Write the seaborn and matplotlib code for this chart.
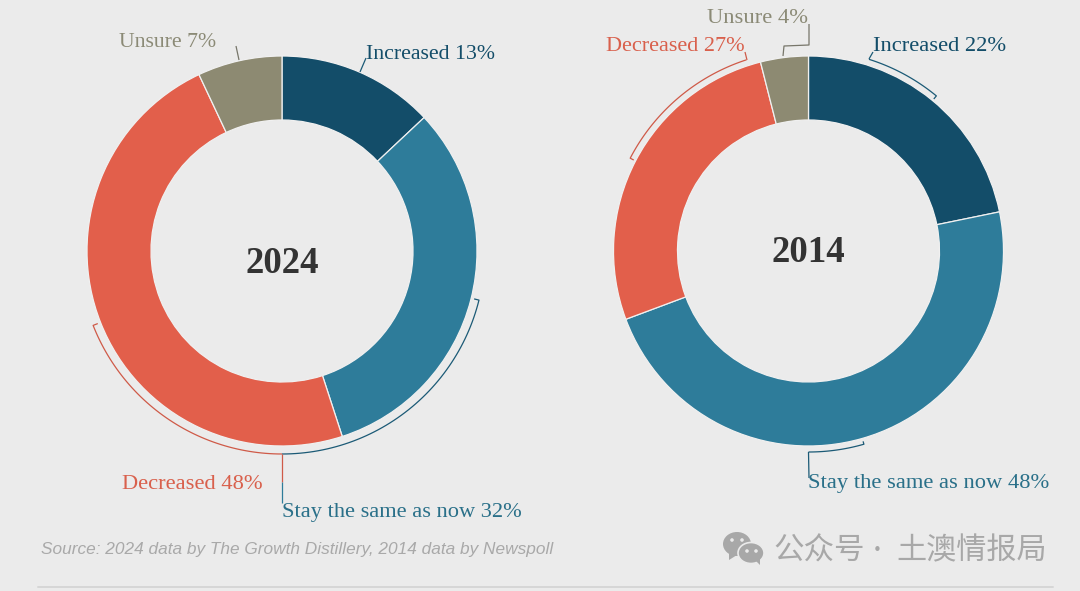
"""Two donut charts comparing survey answers in 2024 and 2014."""
import matplotlib.pyplot as plt
import numpy as np
import seaborn as sns
from matplotlib.patches import Ellipse, Polygon

W, H = 1080, 591
BG = "#ebebeb"

categories = ["Increased", "Stay the same as now", "Decreased", "Unsure"]
values_2024 = [13, 32, 48, 7]
values_2014 = [22, 48, 27, 4]
years = ["2024", "2014"]
source_note = "Source: 2024 data by The Growth Distillery, 2014 data by Newspoll"
watermark_left = "公众号"
watermark_right = "土澳情报局"

palette = sns.color_palette(["#134d69", "#2e7c9a", "#e25f4b", "#8d8a72"])
text_colors = ["#134d69", "#2a7089", "#d9604c", "#8b8a76"]
line_dark = "#1b5a76"
line_red = "#cf5a48"
line_grey = "#77766a"

sns.set_theme(style="white", rc={"figure.facecolor": BG, "axes.facecolor": BG})
plt.rcParams["font.family"] = ["Liberation Serif", "DejaVu Serif"]

CENTERS = [(282, 251), (808.5, 251)]
R_OUT, R_IN = 195, 131


def py(y):
    # picture pixels count from the top, the axes from the bottom
    return H - y


def bracket(ax, cx, cy, start, end, color, r=202, cap_start=5, cap_end=5):
    """Thin arc outside the ring, angles clockwise from 12 o'clock."""
    ang = np.radians(np.linspace(start, end, 60))
    xs = cx + r * np.sin(ang)
    ys = cy + r * np.cos(ang)
    if cap_start:
        xs = np.r_[cx + (r - cap_start) * np.sin(ang[0]), xs]
        ys = np.r_[cy + (r - cap_start) * np.cos(ang[0]), ys]
    if cap_end:
        xs = np.r_[xs, cx + (r - cap_end) * np.sin(ang[-1])]
        ys = np.r_[ys, cy + (r - cap_end) * np.cos(ang[-1])]
    ax.plot(xs, ys, color=color, lw=0.9, solid_capstyle="butt")


def leader(ax, pts, color):
    ax.plot([p[0] for p in pts], [py(p[1]) for p in pts], color=color, lw=0.9,
            solid_capstyle="butt")


fig = plt.figure(figsize=(W / 100, H / 100), dpi=100)
ax = fig.add_axes([0, 0, 1, 1])

for (cx, cy), vals in zip(CENTERS, [values_2024, values_2014]):
    ax.pie(
        vals,
        colors=palette,
        center=(cx, py(cy)),
        radius=R_OUT,
        startangle=90,
        counterclock=False,
        normalize=True,
        wedgeprops={"width": R_OUT - R_IN, "edgecolor": "#f0f0f0", "linewidth": 0.9},
    )

ax.set_xlim(0, W)
ax.set_ylim(0, H)
ax.set_aspect("equal")
ax.axis("off")

# year in the hole
ax.text(282, py(273), years[0], ha="center", va="baseline", fontsize=26.6,
        fontweight="bold", color="#333333")
ax.text(808, py(262), years[1], ha="center", va="baseline", fontsize=26.6,
        fontweight="bold", color="#333333")

# 2024 brackets and leaders
lx, ly = CENTERS[0][0], py(CENTERS[0][1])
bracket(ax, lx, ly, 104, 180, line_dark, r=203, cap_end=0)
bracket(ax, lx, ly, 180, 248.5, line_red, r=203, cap_start=0)
leader(ax, [(282, 454), (282, 482)], line_red)
leader(ax, [(282, 482), (282, 503)], "#2e7c9a")
leader(ax, [(236, 46), (239, 60)], line_grey)
leader(ax, [(360, 72), (366, 58)], line_dark)

# 2014 brackets and leaders
rx, ry = CENTERS[1][0], py(CENTERS[1][1])
bracket(ax, rx, ry, 17.5, 39.5, line_dark, r=201, cap_start=0, cap_end=4)
bracket(ax, rx, ry, 297.5, 342, line_red, r=201, cap_start=4, cap_end=0)
bracket(ax, rx, ry, 164, 180, line_dark, r=201, cap_start=3, cap_end=0)
leader(ax, [(869, 59), (873, 52)], line_dark)
leader(ax, [(747, 60), (745, 52)], line_red)
leader(ax, [(808.5, 452), (809, 478)], line_dark)
leader(ax, [(783, 56), (784, 46), (809, 45), (809, 24)], line_grey)

# labels
labels = [
    (366, 59, f"{categories[0]} {values_2024[0]}%", 0, 15.7),
    (282, 517, f"{categories[1]} {values_2024[1]}%", 1, 16.1),
    (122, 489, f"{categories[2]} {values_2024[2]}%", 2, 16.2),
    (119, 47, f"{categories[3]} {values_2024[3]}%", 3, 15.7),
    (873, 51, f"{categories[0]} {values_2014[0]}%", 0, 16.2),
    (808, 488, f"{categories[1]} {values_2014[1]}%", 1, 16.2),
    (606, 51, f"{categories[2]} {values_2014[2]}%", 2, 16.0),
    (707, 23, f"{categories[3]} {values_2014[3]}%", 3, 16.2),
]
for x, y, s, i, size in labels:
    ax.text(x, py(y), s, ha="left", va="baseline", fontsize=size, color=text_colors[i])

ax.text(41, py(554), source_note, ha="left", va="baseline", fontsize=12.43,
        fontstyle="italic", family=["Liberation Sans"], color="#a9a9a9")

# watermark
mark = "#a8a8a8"
ax.add_patch(Ellipse((737, py(544)), 28, 24, color=mark, lw=0))
ax.add_patch(Polygon([(729, py(553)), (729, py(560)), (737, py(555))], color=mark, lw=0))
ax.add_patch(Ellipse((751, py(553)), 26, 21, facecolor=mark, edgecolor=BG, lw=1.2))
ax.add_patch(Polygon([(756, py(561)), (760, py(565)), (760, py(558))], color=mark, lw=0))
for ex, ey in [(732, 540), (742, 540), (747, 551), (756, 551)]:
    ax.add_patch(Ellipse((ex, py(ey)), 3.6, 3.6, color=BG, lw=0))
cjk = ["Noto Sans CJK SC", "DejaVu Sans"]
ax.text(773, py(551), watermark_left, ha="left", va="center", fontsize=22,
        family=cjk, color=mark)
ax.text(877, py(551), "·", ha="center", va="center", fontsize=15, family=cjk, color=mark)
ax.text(896, py(551), watermark_right, ha="left", va="center", fontsize=21.7,
        family=cjk, color=mark)

# rule at the bottom
ax.plot([38, 1053], [py(587), py(587)], color="#d6d6d6", lw=1.4)

fig.savefig("out.png", dpi=100, facecolor=BG)
plt.close(fig)
